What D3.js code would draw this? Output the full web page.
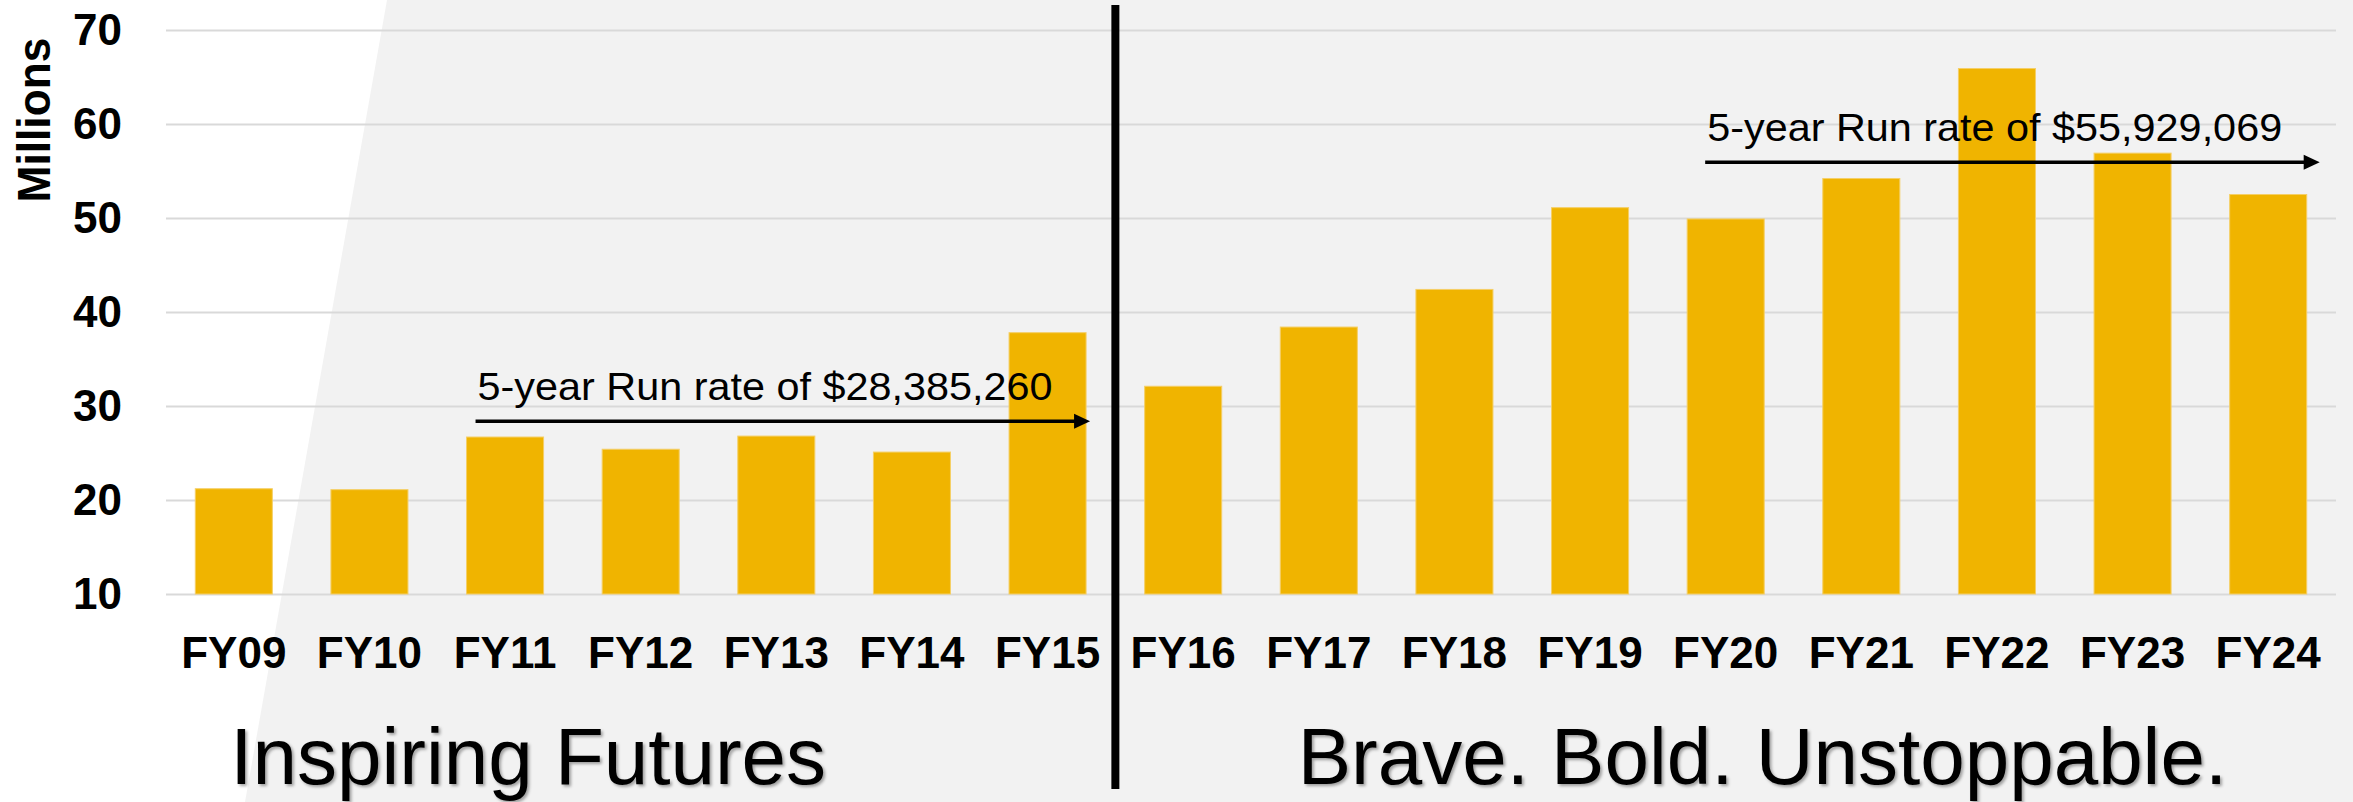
<!DOCTYPE html>
<html>
<head>
<meta charset="utf-8">
<script src="https://cdn.jsdelivr.net/npm/d3@7"></script>
<style>
  body { margin: 0; background: #f2f2f2; }
  svg { display: block; font-family: "Liberation Sans", Arial, sans-serif; }
</style>
</head>
<body>
<div id="chart"></div>
<script>
// data (millions)
var years = ["FY09", "FY10", "FY11", "FY12", "FY13", "FY14", "FY15", "FY16",
             "FY17", "FY18", "FY19", "FY20", "FY21", "FY22", "FY23", "FY24"];
var amounts = [21.2, 21.1, 26.7, 25.4, 26.8, 25.1, 37.8, 32.1,
               38.4, 42.4, 51.1, 49.9, 54.2, 65.9, 56.9, 52.5];
var yTicks = [10, 20, 30, 40, 50, 60, 70];
var runRateLabels = ["5-year Run rate of $28,385,260", "5-year Run rate of $55,929,069"];
var runRates = [28.385260, 55.929069];
var runRateFrom = ["FY11", "FY20"];
var runRateTo = ["FY15", "FY24"];
var eraNames = ["Inspiring Futures", "Brave. Bold. Unstoppable."];
var eraStart = ["FY09", "FY16"];

var svgWidth = 2353;
var svgHeight = 802;
var margin = { top: 30, bottom: 208, left: 166, right: 17 };
var width = svgWidth - margin.left - margin.right;
var height = svgHeight - margin.top - margin.bottom;

var svg = d3.select("#chart")
  .append("svg")
  .attr("width", svgWidth)
  .attr("height", svgHeight);

var defs = svg.append("defs");
var shadow = defs.append("filter").attr("id", "shadow")
  .attr("x", "-5%").attr("y", "-20%").attr("width", "110%").attr("height", "140%");
shadow.append("feDropShadow")
  .attr("dx", 2).attr("dy", 2).attr("stdDeviation", 1.5)
  .attr("flood-color", "#000").attr("flood-opacity", 0.35);

// background: grey with a white slanted wedge on the left
svg.append("rect")
  .attr("width", svgWidth).attr("height", svgHeight)
  .attr("fill", "#f2f2f2");
svg.append("path")
  .attr("d", "M0,0L387,0L245,802L0,802Z")
  .attr("fill", "#ffffff");

var chartGroup = svg.append("g")
  .attr("transform", `translate(${margin.left}, ${margin.top})`);

// scales
var xBandScale = d3.scaleBand()
  .domain(years)
  .range([0, width])
  .paddingInner(0.432)
  .paddingOuter(0.216);
var yLinearScale = d3.scaleLinear()
  .domain([10, 70])
  .range([height, 0]);

// y axis + gridlines
var yAxis = d3.axisLeft(yLinearScale)
  .tickValues(yTicks)
  .tickSize(-width)
  .tickPadding(44);
var yG = chartGroup.append("g").call(yAxis);
yG.select(".domain").remove();
yG.selectAll(".tick line").attr("stroke", "#d9d9d9").attr("stroke-width", 2);
yG.selectAll(".tick text")
  .attr("font-size", 44)
  .attr("font-weight", "bold")
  .attr("fill", "#000")
  .attr("font-family", "Liberation Sans, Arial, sans-serif");

// x axis
var xAxis = d3.axisBottom(xBandScale).tickSize(0).tickPadding(43);
var xG = chartGroup.append("g")
  .attr("transform", `translate(0, ${height})`)
  .call(xAxis);
xG.select(".domain").remove();
xG.selectAll(".tick text")
  .attr("font-size", 44)
  .attr("font-weight", "bold")
  .attr("fill", "#000")
  .attr("font-family", "Liberation Sans, Arial, sans-serif");

// bars
chartGroup.selectAll("rect.bar")
  .data(years)
  .enter()
  .append("rect")
  .attr("class", "bar")
  .attr("x", d => xBandScale(d))
  .attr("y", (d, i) => yLinearScale(amounts[i]))
  .attr("width", xBandScale.bandwidth())
  .attr("height", (d, i) => yLinearScale(10) - yLinearScale(amounts[i]))
  .attr("fill", "#f0b400")
  .attr("stroke", "#f5cf66")
  .attr("stroke-width", 1);

// divider between the two campaigns
var step = xBandScale.step();
var divX = xBandScale("FY16") - (step - xBandScale.bandwidth()) / 2;
chartGroup.append("line")
  .attr("x1", divX).attr("x2", divX)
  .attr("y1", 5 - margin.top).attr("y2", 789 - margin.top)
  .attr("stroke", "#000")
  .attr("stroke-width", 8);

// run rate arrows
var startPad = [9, 18];
var endPad = [4, 13];
runRateLabels.forEach(function(label, i) {
  var x0 = xBandScale(runRateFrom[i]) + startPad[i];
  var x1 = xBandScale(runRateTo[i]) + xBandScale.bandwidth() + endPad[i];
  var y = yLinearScale(runRates[i]);
  chartGroup.append("line")
    .attr("x1", x0).attr("x2", x1 - 14)
    .attr("y1", y).attr("y2", y)
    .attr("stroke", "#000")
    .attr("stroke-width", 3.5);
  chartGroup.append("path")
    .attr("d", `M${x1 - 16},${y - 7.5}L${x1},${y}L${x1 - 16},${y + 7.5}Z`)
    .attr("fill", "#000");
  chartGroup.append("text")
    .attr("x", x0 + 2)
    .attr("y", y - 21)
    .attr("font-size", 39)
    .attr("textLength", 575)
    .attr("lengthAdjust", "spacingAndGlyphs")
    .attr("fill", "#000")
    .text(label);
});

// "Millions" label
svg.append("text")
  .attr("transform", "translate(50, 120) rotate(-90)")
  .attr("text-anchor", "middle")
  .attr("font-size", 46)
  .attr("font-weight", "bold")
  .attr("textLength", 165)
  .attr("lengthAdjust", "spacingAndGlyphs")
  .text("Millions");

// campaign names
var eraPad = [35, 153];
eraNames.forEach(function(name, i) {
  chartGroup.append("text")
    .attr("x", xBandScale(eraStart[i]) + eraPad[i])
    .attr("y", 784 - margin.top)
    .attr("font-size", 80)
    .attr("fill", "#000")
    .attr("filter", "url(#shadow)")
    .text(name);
});
</script>
</body>
</html>
